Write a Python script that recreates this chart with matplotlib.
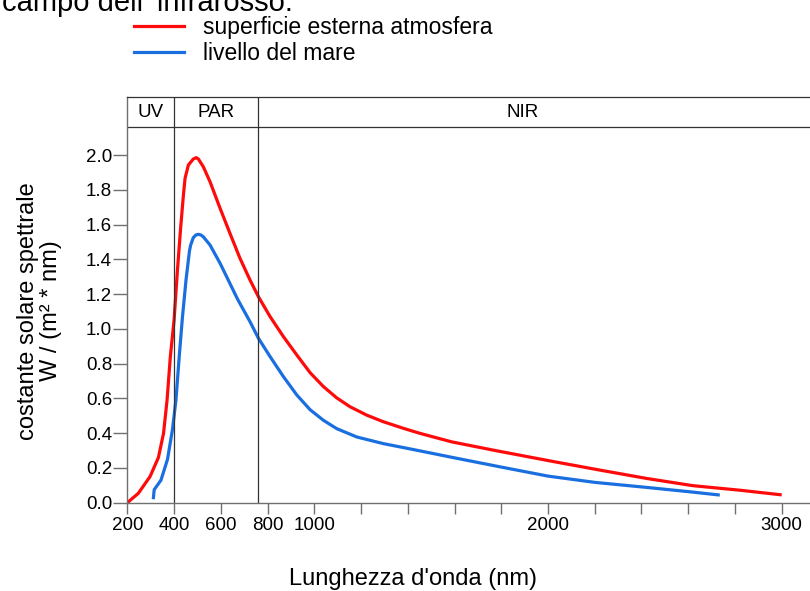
import matplotlib
matplotlib.use("Agg")
import matplotlib.pyplot as plt
from matplotlib.lines import Line2D

plt.rcParams['font.family'] = ['Liberation Sans', 'DejaVu Sans']

# spectral irradiance, W / (m^2 * nm)
wl_top = [200, 247, 297, 333, 355, 370, 384, 400, 414, 428, 440, 447, 461,
          482, 495, 504, 525, 554, 597, 639, 682, 725, 761, 811, 868, 925,
          982, 1039, 1096, 1153, 1224, 1295, 1381, 1452, 1588, 1775, 2010,
          2212, 2420, 2620, 2820, 3000]
irr_top = [0.0, 0.054, 0.15, 0.26, 0.40, 0.59, 0.84, 1.05, 1.33, 1.58, 1.77,
           1.866, 1.942, 1.977, 1.985, 1.977, 1.933, 1.846, 1.693, 1.55,
           1.406, 1.281, 1.185, 1.07, 0.955, 0.85, 0.748, 0.668, 0.603, 0.552,
           0.504, 0.466, 0.428, 0.399, 0.35, 0.30, 0.24, 0.19, 0.14, 0.098,
           0.072, 0.045]

wl_sea = [311, 315, 344, 372, 393, 408, 422, 436, 451, 466, 471, 482, 493,
          504, 515, 525, 554, 597, 672, 725, 761, 811, 868, 925, 982, 1039,
          1096, 1182, 1295, 1438, 1600, 1792, 2000, 2200, 2407, 2605, 2735]
irr_sea = [0.02, 0.075, 0.13, 0.25, 0.42, 0.59, 0.84, 1.07, 1.28, 1.45,
           1.482, 1.524, 1.54, 1.544, 1.54, 1.53, 1.482, 1.377, 1.17, 1.041,
           0.946, 0.84, 0.725, 0.62, 0.535, 0.474, 0.426, 0.378, 0.34, 0.302,
           0.258, 0.207, 0.153, 0.117, 0.09, 0.063, 0.044]

# spectral bands and the wavelengths that bound them
bands = ["UV", "PAR", "NIR"]
band_edges = [200, 400, 760, 3121]
band_label_x = [300, 580, 1890]

x_ticks = list(range(200, 3001, 200))
x_labels = ["200", "400", "600", "800", "1000", "", "", "", "",
            "2000", "", "", "", "", "3000"]
y_ticks = [0.0, 0.2, 0.4, 0.6, 0.8, 1.0, 1.2, 1.4, 1.6, 1.8, 2.0]

header_bottom = 2.161
header_top = 2.334

red = "#ff0a0a"
blue = "#1a6fe0"
grey = "#707070"

fig = plt.figure(figsize=(8.1, 5.91), dpi=100)
ax = fig.add_axes([0.1572, 0.1494, 0.8428, 0.6865])

ax.plot(wl_top, irr_top, color=red, lw=2.3, solid_capstyle="butt")
ax.plot(wl_sea, irr_sea, color=blue, lw=2.3, solid_capstyle="butt")

ax.set_xlim(band_edges[0], band_edges[-1])
ax.set_ylim(0, header_top)

# band header row
ax.axhline(header_bottom, color="#333333", lw=0.9)
for edge in band_edges[1:-1]:
    ax.axvline(edge, color="#333333", lw=0.9)
for name, bx in zip(bands, band_label_x):
    ax.text(bx, (header_bottom + header_top) / 2, name, ha="center",
            va="center", fontsize=13.5)

ax.set_xticks(x_ticks)
ax.set_xticklabels(x_labels)
ax.set_yticks(y_ticks)
ax.set_yticklabels([f"{v:.1f}" for v in y_ticks])
ax.tick_params(axis="both", colors=grey, labelcolor="black", labelsize=13.5,
               width=1.0)
ax.tick_params(axis="x", length=8, pad=2)
ax.tick_params(axis="y", length=10, pad=1)

ax.spines["right"].set_visible(False)
for side in ["left", "bottom"]:
    ax.spines[side].set_color(grey)
    ax.spines[side].set_linewidth(1.0)
ax.spines["top"].set_color("#333333")
ax.spines["top"].set_linewidth(0.9)

ax.set_ylabel("costante solare spettrale\nW / (m² * nm)", fontsize=17,
              linespacing=1.05)
ax.yaxis.set_label_coords(-0.096, 0.4725)
fig.text(413 / 810, 1 - 579 / 591, "Lunghezza d'onda (nm)", ha="center",
         va="center", fontsize=17)

fig.text(0.002, 1 - 11 / 591, "campo dell' infrarosso.", ha="left",
         va="baseline", fontsize=21)

handles = [Line2D([], [], color=red, lw=2.3),
           Line2D([], [], color=blue, lw=2.3)]
fig.legend(handles, ["superficie esterna atmosfera", "livello del mare"],
           loc="upper left", bbox_to_anchor=(134 / 810, 1 - 16 / 591),
           frameon=False, fontsize=16.5, handlelength=2.2,
           handletextpad=0.83, labelspacing=0.12, borderpad=0,
           borderaxespad=0)

fig.savefig("out.png", dpi=100)
